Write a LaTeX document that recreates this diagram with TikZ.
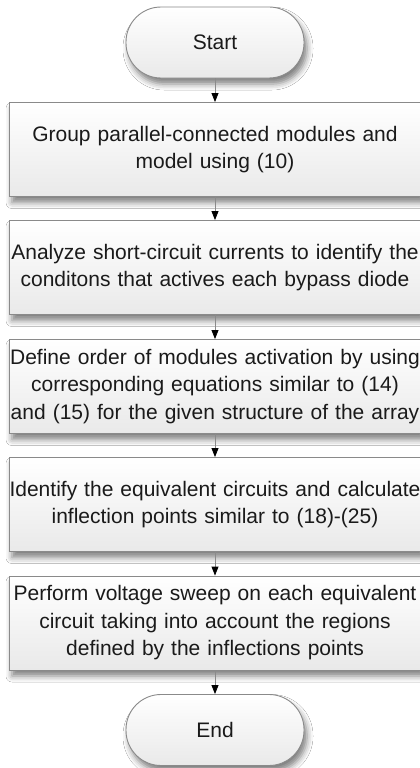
\documentclass[tikz,border=0pt]{standalone}
\usepackage{fontspec}
\setmainfont{Liberation Sans}
\usetikzlibrary{arrows.meta,shadows.blur}
\definecolor{ink}{HTML}{1A1A1A}
\definecolor{edge}{HTML}{8A8A8A}
\definecolor{shadefill}{HTML}{E9E9E9}
\tikzset{
  shape base/.style={
    draw=edge,
    line width=0.9pt,
    top color=white,
    bottom color=shadefill,
    text=ink,
    align=center,
    font=\fontsize{21}{27.5}\selectfont,
    blur shadow={shadow xshift=3pt,shadow yshift=-6pt,shadow blur radius=6pt,shadow opacity=50}
  },
  terminal/.style={shape base,rounded corners=35pt,minimum width=178pt,minimum height=71pt},
  process/.style={shape base,minimum width=412pt,minimum height=94pt,text width=412pt,inner sep=0pt},
  flow/.style={draw=edge,line width=0.9pt,
    arrows={-{Triangle[length=9pt,width=7pt,fill=black,color=black]}}}
}
\begin{document}
\begin{tikzpicture}[x=1pt,y=-1pt]
  \useasboundingbox[fill=white] (0,0) rectangle (420,768);

  \node[terminal] (start) at (215,42.5) {Start};
  \node[process] (group) at (215,149.5) {
    Group parallel-connected modules and\\
    model using (10)
  };
  \node[process] (analyze) at (215,267.5) {
    Analyze short-circuit currents to identify the\\
    conditons that actives each bypass diode
  };
  \node[process] (order) at (215,386.5) {
    Define order of modules activation by using\\
    corresponding equations similar to (14)\\
    and (15) for the given structure of the array
  };
  \node[process] (identify) at (215,504.5) {
    Identify the equivalent circuits and calculate\\
    inflection points similar to (18)-(25)
  };
  \node[process] (sweep) at (215,623) {
    Perform voltage sweep on each equivalent\\
    circuit taking into account the regions\\
    defined by the inflections points
  };
  \node[terminal] (stop) at (215,730) {End};

  \draw[flow] (start) -- (group);
  \draw[flow] (group) -- (analyze);
  \draw[flow] (analyze) -- (order);
  \draw[flow] (order) -- (identify);
  \draw[flow] (identify) -- (sweep);
  \draw[flow] (sweep) -- (stop);
\end{tikzpicture}
\end{document}
